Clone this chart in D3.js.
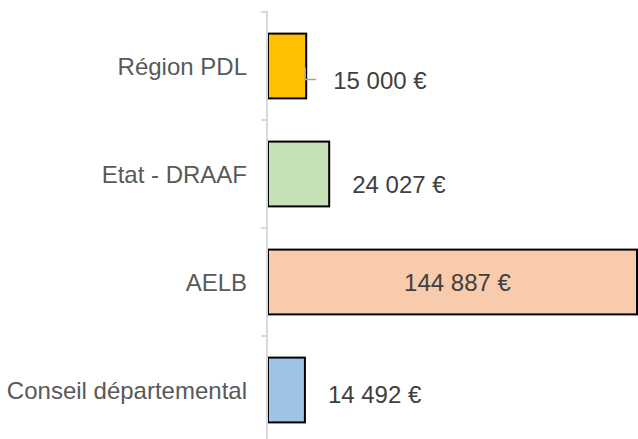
<!DOCTYPE html>
<html>
<head>
<meta charset="utf-8">
<script src="https://cdn.jsdelivr.net/npm/d3@7"></script>
<style>
  html, body { margin: 0; padding: 0; background: #fff; }
  svg { display: block; }
</style>
</head>
<body>
<svg id="chart" width="638" height="439"></svg>
<script>
// Data
const categories = ["Région PDL", "Etat - DRAAF", "AELB", "Conseil départemental"];
const values = [15000, 24027, 144887, 14492];
const valueLabels = ["15 000 €", "24 027 €", "144 887 €", "14 492 €"];
const colors = ["#FFC000", "#C5E0B4", "#F8CBAD", "#9DC3E6"];

// Layout (label placement, moved by hand in the original)
const labelPlace = [
  { inside: false, dx: 27, dy: 14 },
  { inside: false, dx: 23, dy: 10 },
  { inside: true,  dx: 5,  dy: 0.5 },
  { inside: false, dx: 23, dy: 4.5 }
];

const svg = d3.select("#chart");
const axisX = 267;
const x = d3.scaleLinear().domain([0, 144887]).range([axisX + 1, 637]);
const y = d3.scaleBand().domain(categories).range([12, 444]).paddingInner(0.4).paddingOuter(0.2);

const fontFamily = "'Liberation Sans', Arial, sans-serif";
const fs = 24;

// bars
svg.append("g").selectAll("rect")
  .data(categories)
  .join("rect")
  .attr("x", x(0))
  .attr("y", d => y(d))
  .attr("width", (d, i) => x(values[i]) - x(0))
  .attr("height", y.bandwidth())
  .attr("fill", (d, i) => colors[i])
  .attr("stroke", "#000")
  .attr("stroke-width", 2);

// axis line & ticks
const ag = svg.append("g");
ag.append("line")
  .attr("x1", axisX).attr("x2", axisX)
  .attr("y1", 11).attr("y2", 439)
  .attr("stroke", "#d9d9d9").attr("stroke-width", 2);
const boundaries = categories.map(c => y(c) - y.step() * y.paddingInner() / 2);
ag.selectAll("line.tick")
  .data(boundaries)
  .join("line")
  .attr("class", "tick")
  .attr("x1", axisX - 6).attr("x2", axisX)
  .attr("y1", d => d).attr("y2", d => d)
  .attr("stroke", "#d9d9d9").attr("stroke-width", 2);

// category labels
svg.append("g").selectAll("text")
  .data(categories)
  .join("text")
  .attr("x", 247)
  .attr("y", d => y(d) + y.bandwidth() / 2 + 0.358 * fs)
  .attr("text-anchor", "end")
  .attr("font-family", fontFamily)
  .attr("font-size", fs)
  .attr("fill", "#595959")
  .text(d => d);

// leader line for first label
{
  const i = 0;
  const xe = x(values[i]) - 1;
  const yc = y(categories[i]) + y.bandwidth() / 2;
  svg.append("path")
    .attr("d", `M${xe},${yc + 1.5} V${yc + labelPlace[i].dy - 0.5} H${xe + 11}`)
    .attr("fill", "none")
    .attr("stroke", "#a6a6a6")
    .attr("stroke-width", 1.5);
}

// value labels
svg.append("g").selectAll("text")
  .data(categories)
  .join("text")
  .attr("x", (d, i) => labelPlace[i].inside
      ? (x(0) + x(values[i])) / 2 + labelPlace[i].dx
      : x(values[i]) + labelPlace[i].dx)
  .attr("y", (d, i) => y(d) + y.bandwidth() / 2 + labelPlace[i].dy + 0.358 * fs)
  .attr("text-anchor", (d, i) => labelPlace[i].inside ? "middle" : "start")
  .attr("font-family", fontFamily)
  .attr("font-size", fs)
  .attr("fill", "#404040")
  .text((d, i) => valueLabels[i]);
</script>
</body>
</html>
